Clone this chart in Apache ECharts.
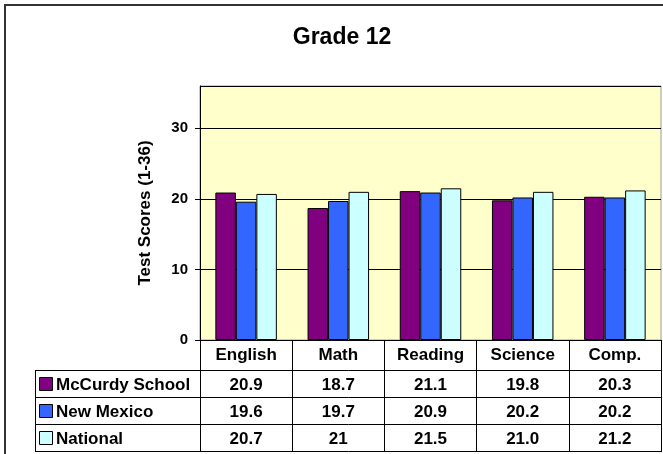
<!DOCTYPE html>
<html>
<head>
<meta charset="utf-8">
<script src="https://cdn.jsdelivr.net/npm/echarts@6/dist/echarts.min.js"></script>
<style>
  html, body { margin: 0; padding: 0; background: #fff; }
  #chart_con { width: 663px; height: 454px; }
</style>
</head>
<body>
<div id="chart_con"></div>
<script>
// data
var categories = ['English', 'Math', 'Reading', 'Science', 'Comp.'];
var seriesNames = ['McCurdy School', 'New Mexico', 'National'];
var mccurdy = [20.9, 18.7, 21.1, 19.8, 20.3];
var newMexico = [19.6, 19.7, 20.9, 20.2, 20.2];
var national = [20.7, 21, 21.5, 21.0, 21.2];
// how each number is printed in the table
var mccurdyText = ['20.9', '18.7', '21.1', '19.8', '20.3'];
var newMexicoText = ['19.6', '19.7', '20.9', '20.2', '20.2'];
var nationalText = ['20.7', '21', '21.5', '21.0', '21.2'];

var colors = ['#800080', '#3366FF', '#CCFFFF'];
var font = 'Arial, "Liberation Sans", sans-serif';

// plot box
var gLeft = 200, gRight = 661, gTop = 86, gBottom = 340;
var rowLines = [370.5, 397.5, 424.5, 451.5];

var graphics = [];
// outer frame
graphics.push({
    type: 'rect', shape: {x: 5, y: 5, width: 720, height: 520},
    style: {fill: null, stroke: '#333', lineWidth: 2}, silent: true
});
// table horizontal lines
rowLines.forEach(function (y) {
    graphics.push({
        type: 'line', shape: {x1: 35, y1: y, x2: gRight + 1, y2: y},
        style: {stroke: '#000', lineWidth: 1}, silent: true
    });
});
// left border of legend column
graphics.push({
    type: 'line', shape: {x1: 35.5, y1: rowLines[0], x2: 35.5, y2: rowLines[3]},
    style: {stroke: '#000', lineWidth: 1}, silent: true
});

var tableRows = [mccurdyText, newMexicoText, nationalText];
var colW = (gRight - gLeft) / categories.length;
for (var r = 0; r < tableRows.length; r++) {
    var cy = (rowLines[r] + rowLines[r + 1]) / 2;
    // legend key
    graphics.push({
        type: 'rect', shape: {x: 39.5, y: cy - 6.5, width: 13, height: 13},
        style: {fill: colors[r], stroke: '#000', lineWidth: 1}, silent: true
    });
    graphics.push({
        type: 'text', x: 56, y: cy + 1,
        style: {text: seriesNames[r], font: 'bold 17px ' + font, fill: '#000',
                textAlign: 'left', textVerticalAlign: 'middle'}, silent: true
    });
    for (var c = 0; c < categories.length; c++) {
        graphics.push({
            type: 'text', x: gLeft + colW * (c + 0.5), y: cy + 1,
            style: {text: tableRows[r][c], font: 'bold 17px ' + font, fill: '#000',
                    textAlign: 'center', textVerticalAlign: 'middle'}, silent: true
        });
    }
}

var option = {
    animation: false,
    title: {
        text: 'Grade 12',
        left: 337,
        textAlign: 'center',
        top: 21,
        textStyle: {fontFamily: font, fontWeight: 'bold', fontSize: 23, color: '#000'}
    },
    grid: {
        left: gLeft, right: 663 - gRight, top: gTop, bottom: 454 - gBottom,
        show: true, backgroundColor: '#FFFFCC', borderColor: '#9a9a9a', borderWidth: 1
    },
    xAxis: {
        type: 'category',
        data: categories,
        axisLine: {lineStyle: {color: '#000', width: 1}},
        axisTick: {show: true, length: 112, lineStyle: {color: '#000'}},
        axisLabel: {margin: 7, color: '#000', fontFamily: font, fontWeight: 'bold', fontSize: 17}
    },
    yAxis: {
        type: 'value',
        min: 0, max: 36, interval: 10,
        name: 'Test Scores (1-36)',
        nameLocation: 'middle',
        nameRotate: 90,
        nameGap: 46,
        nameTextStyle: {fontFamily: font, fontWeight: 'bold', fontSize: 17, color: '#000'},
        axisLine: {show: true, lineStyle: {color: '#000'}},
        axisTick: {show: true, length: 5, lineStyle: {color: '#000'}},
        axisLabel: {margin: 12, color: '#000', fontFamily: font, fontWeight: 'bold', fontSize: 15,
                    showMaxLabel: false},
        splitLine: {lineStyle: {color: '#000', width: 1}}
    },
    series: [
        {name: seriesNames[0], type: 'bar', data: mccurdy, barWidth: 20.5, barGap: '0%',
         itemStyle: {color: colors[0], borderColor: '#000', borderWidth: 1}},
        {name: seriesNames[1], type: 'bar', data: newMexico, barWidth: 20.5, barGap: '0%',
         itemStyle: {color: colors[1], borderColor: '#000', borderWidth: 1}},
        {name: seriesNames[2], type: 'bar', data: national, barWidth: 20.5, barGap: '0%',
         itemStyle: {color: colors[2], borderColor: '#000', borderWidth: 1}}
    ],
    graphic: graphics
};

var chart = echarts.init(document.getElementById('chart_con'));
chart.setOption(option);
</script>
</body>
</html>
